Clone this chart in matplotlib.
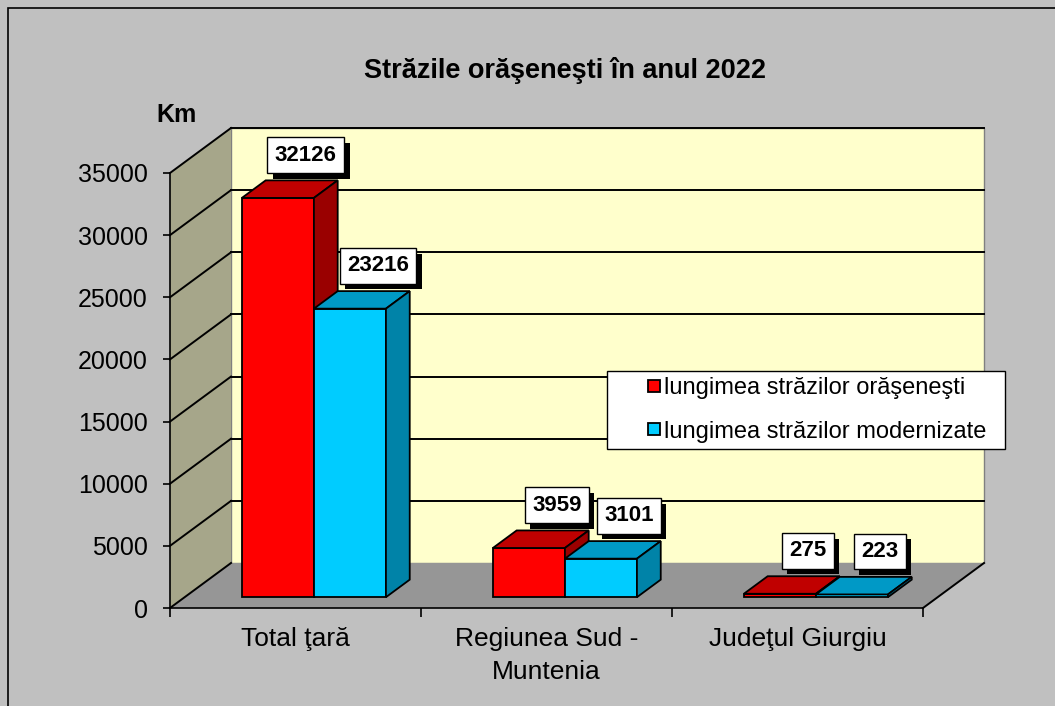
import matplotlib
matplotlib.use("Agg")
import matplotlib.pyplot as plt
import matplotlib.patheffects as pe
from matplotlib.patches import Polygon, Rectangle
from matplotlib.legend_handler import HandlerPatch

plt.rcParams['font.family'] = ['Liberation Sans', 'DejaVu Sans']

# Data
categories = ['Total ţară', 'Regiunea Sud -\nMuntenia', 'Judeţul Giurgiu']
series_names = ['lungimea străzilor orăşeneşti', 'lungimea străzilor modernizate']
street_length = [32126, 3959, 275]
modern_length = [23216, 3101, 223]
y_ticks = [0, 5000, 10000, 15000, 20000, 25000, 30000, 35000]

# front / top / side colours for each series
face_colors = [('#FF0000', '#C00000', '#9A0000'),
               ('#00CCFF', '#0099C6', '#0083A8')]

W, H = 1055, 706
fig = plt.figure(figsize=(W / 100, H / 100), dpi=100, facecolor='#C0C0C0')
ax = fig.add_axes([170 / W, 1 - 608 / H, 753 / W, 435 / H])
ax.set_xlim(0, len(categories))
ax.set_ylim(0, y_ticks[-1])
ax.patch.set_visible(False)

# depth of the 3d box in data units (about 61 px right, 45 px up)
DX = 61 * len(categories) / 753
DY = 45 * y_ticks[-1] / 435
f0, f1 = 0.24, 0.63          # bar front / back depth fraction
bar_w = 0.287
group_shift = 0.515

n = len(categories)
top = y_ticks[-1]

# walls and floor
ax.add_patch(Polygon([(DX, DY), (n + DX, DY), (n + DX, top + DY), (DX, top + DY)],
                     closed=True, fc='#FFFFCC', ec='#808080', lw=1, zorder=0.2, clip_on=False))
ax.add_patch(Polygon([(0, 0), (DX, DY), (DX, top + DY), (0, top)],
                     closed=True, fc='#A6A68A', ec='none', zorder=0.3, clip_on=False))
ax.add_patch(Polygon([(0, 0), (n, 0), (n + DX, DY), (DX, DY)],
                     closed=True, fc='#969696', ec='none', zorder=0.3, clip_on=False))
ax.plot([n, n + DX], [0, DY], color='black', lw=1.4, zorder=0.5, clip_on=False)

# gridlines on the back and side wall
for v in y_ticks:
    ax.plot([0, DX], [v, v + DY], color='black', lw=1.4, zorder=0.5, clip_on=False)
    if v > 0:
        ax.plot([DX, n + DX], [v + DY, v + DY], color='black', lw=1.4, zorder=0.5, clip_on=False)

# 3d bars
z = 3
for i in range(n):
    for s, vals in enumerate([street_length, modern_length]):
        h = vals[i]
        front, topc, side = face_colors[s]
        x0 = i + group_shift - bar_w + s * bar_w
        ax.bar(x0 + f0 * DX, h, bar_w, bottom=f0 * DY, align='edge', color=front,
               edgecolor='black', lw=1.3, zorder=z, clip_on=False)
        ax.add_patch(Polygon([(x0 + f0 * DX, h + f0 * DY), (x0 + bar_w + f0 * DX, h + f0 * DY),
                              (x0 + bar_w + f1 * DX, h + f1 * DY), (x0 + f1 * DX, h + f1 * DY)],
                             closed=True, fc=topc, ec='black', lw=1.3, zorder=z, clip_on=False))
        ax.add_patch(Polygon([(x0 + bar_w + f0 * DX, f0 * DY), (x0 + bar_w + f1 * DX, f1 * DY),
                              (x0 + bar_w + f1 * DX, h + f1 * DY), (x0 + bar_w + f0 * DX, h + f0 * DY)],
                             closed=True, fc=side, ec='black', lw=1.3, zorder=z, clip_on=False))
        z += 0.1

        # value label, white box with a black drop shadow
        fm = (f0 + f1) / 2
        xy = (x0 + bar_w / 2 + fm * DX, h + fm * DY)
        lab = ax.annotate(str(h), xy=xy, xytext=(11.5, 24.5), textcoords='offset points',
                          ha='center', va='center', fontsize=16, fontweight='bold', color='black',
                          bbox=dict(boxstyle='square,pad=0.33', fc='white', ec='black', lw=1),
                          annotation_clip=False, zorder=10)
        lab.get_bbox_patch().set_path_effects(
            [pe.SimplePatchShadow(offset=(4, -4), shadow_rgbFace='black', alpha=1), pe.Normal()])

# axes
for side_name in ['top', 'right']:
    ax.spines[side_name].set_visible(False)
ax.spines['left'].set_zorder(1)
ax.spines['bottom'].set_zorder(1)
ax.spines['left'].set_linewidth(1.2)
ax.spines['bottom'].set_linewidth(1.2)
ax.set_yticks(y_ticks)
ax.set_yticklabels([str(t) for t in y_ticks], fontsize=18)
ax.tick_params(axis='y', direction='out', length=5, width=1.2, pad=11)
ax.set_xticks(range(n + 1))
ax.set_xticklabels([])
ax.tick_params(axis='x', which='major', direction='out', length=6.5, width=1.2)
ax.set_xticks([i + 0.5 for i in range(n)], minor=True)
ax.set_xticklabels(categories, minor=True, fontsize=19)
ax.tick_params(axis='x', which='minor', length=0, pad=14)
for t in ax.get_xticklabels(minor=True):
    t.set_linespacing(1.45)

fig.text(565 / W, 1 - 70 / H, 'Străzile orăşeneşti în anul 2022', ha='center', va='center',
         fontsize=19.5, fontweight='bold')
fig.text(176 / W, 1 - 115 / H, 'Km', ha='center', va='center', fontsize=18, fontweight='bold')


# legend: small square at the right end of the handle
def right_square(legend, orig_handle, xdescent, ydescent, width, height, fontsize):
    s = 0.5 * fontsize
    return Rectangle((width - xdescent - s, -ydescent + (height - s) / 2), s, s)


handles = [Rectangle((0, 0), 1, 1, fc=c[0], ec='black', lw=1.3) for c in face_colors]
leg = ax.legend(handles, series_names, loc='center',
                bbox_to_anchor=(607 / W, 1 - 450 / H, 398 / W, 80 / H),
                bbox_transform=fig.transFigure, mode='expand', fontsize=17,
                handler_map={Rectangle: HandlerPatch(patch_func=right_square)},
                handlelength=2.0, handletextpad=0.15, borderpad=0.25, labelspacing=0.9,
                borderaxespad=0, fancybox=False, framealpha=1, facecolor='white',
                edgecolor='black')
leg.get_frame().set_linewidth(1)
leg.set_zorder(20)

# outer chart frame
fig.add_artist(Rectangle((8 / W, -0.05), 1.1, 1.05 - 8 / H, transform=fig.transFigure,
                         fill=False, ec='black', lw=1.2))

fig.savefig('out.png', dpi=100, facecolor=fig.get_facecolor())
